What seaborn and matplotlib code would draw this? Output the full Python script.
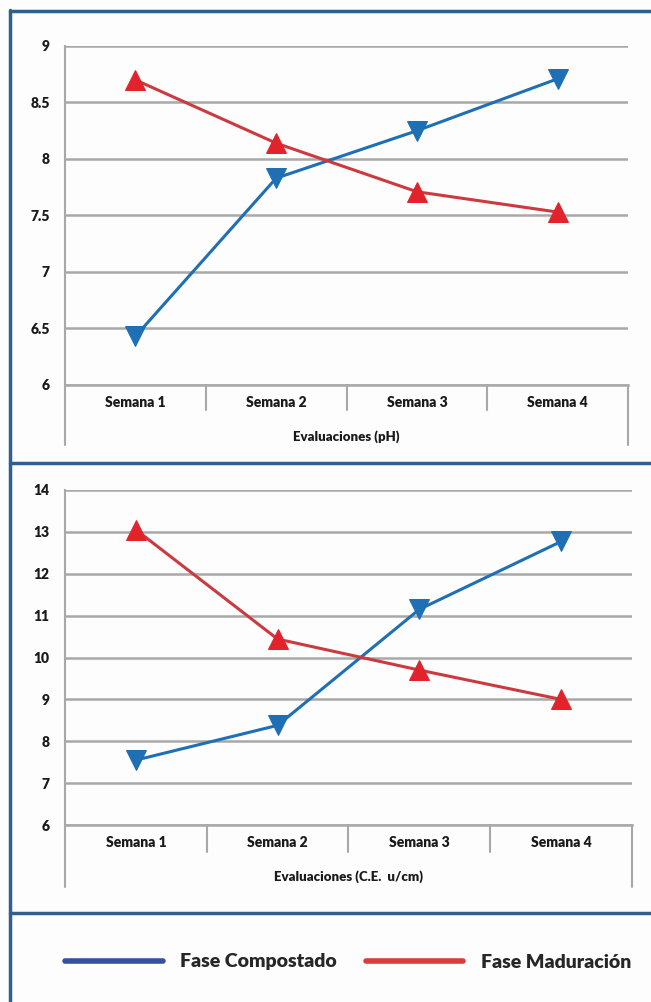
import numpy as np
import pandas as pd
import matplotlib
matplotlib.use("Agg")
import matplotlib.pyplot as plt
from matplotlib.lines import Line2D
import seaborn as sns

# ---- data ----
semanas = ["Semana 1", "Semana 2", "Semana 3", "Semana 4"]
ph_compostado = [6.43, 7.83, 8.25, 8.71]
ph_maduracion = [8.70, 8.14, 7.71, 7.53]
ce_compostado = [7.55, 8.38, 11.15, 12.77]
ce_maduracion = [13.05, 10.44, 9.70, 9.00]
series_names = ["Fase Compostado", "Fase Maduración"]
ph_ticks = [6, 6.5, 7, 7.5, 8, 8.5, 9]
ph_ticklabels = ["6", "6.5", "7", "7.5", "8", "8.5", "9"]
ce_ticks = [6, 7, 8, 9, 10, 11, 12, 13, 14]
ce_ticklabels = ["6", "7", "8", "9", "10", "11", "12", "13", "14"]
xlabel_ph = "Evaluaciones (pH)"
xlabel_ce = "Evaluaciones (C.E.  u/cm)"

sns.set_theme(style="white")
FAM = ["Lato", "DejaVu Sans"]
plt.rcParams["font.family"] = FAM
W = "heavy"

BLUE = "#1f6fb4"
RED = "#e2232c"
RED_LINE = "#cc3a40"
GRID = "#a8a8a8"
FRAME = "#2f5f8f"
TXT = "#1a1a1a"

fig = plt.figure(figsize=(6.51, 10.02), dpi=100)
fig.patch.set_facecolor("#fdfdfd")

ax1 = fig.add_axes([0.0998, 0.6158, 0.8650, 0.3383])
ax2 = fig.add_axes([0.0998, 0.1766, 0.8710, 0.3344])


def draw_panel(ax, comp, mad, ticks, ticklabels, xlabel, inner_len, outer_len, xlab_off):
    df = pd.DataFrame({
        "semana": semanas * 2,
        "x": list(range(len(semanas))) * 2,
        "valor": list(comp) + list(mad),
        "serie": [series_names[0]] * len(semanas) + [series_names[1]] * len(semanas),
    })
    sns.lineplot(data=df, x="x", y="valor", hue="serie", style="serie",
                 palette={series_names[0]: BLUE, series_names[1]: RED_LINE},
                 markers={series_names[0]: "v", series_names[1]: "^"},
                 dashes=False, linewidth=2.2, markersize=14, ax=ax, legend=False,
                 zorder=5)
    for ln in ax.get_lines():
        c = ln.get_color()
        if c == RED_LINE:
            ln.set_markerfacecolor(RED)
            ln.set_markeredgecolor(RED)
        else:
            ln.set_markerfacecolor(BLUE)
            ln.set_markeredgecolor(BLUE)
    ax.set_facecolor("#fdfdfd")
    ax.set_xlim(-0.5, len(semanas) - 0.5)
    ax.set_ylim(ticks[0], ticks[-1])
    ax.set_yticks(ticks)
    ax.set_yticklabels(ticklabels, fontsize=10, fontweight=W, color=TXT)
    ax.set_xticks(range(len(semanas)))
    ax.set_xticklabels(semanas, fontsize=10, fontweight=W, color=TXT)
    ax.tick_params(axis="x", length=0, pad=8)
    ax.tick_params(axis="y", length=6, width=1.5, color=GRID, pad=5)
    ax.set_xlabel("")
    ax.set_ylabel("")
    ax.yaxis.grid(True, color=GRID, linewidth=1.8)
    ax.xaxis.grid(False)
    for s in ["top", "right"]:
        ax.spines[s].set_visible(False)
    ax.spines["left"].set_color(GRID)
    ax.spines["left"].set_linewidth(1.5)
    ax.spines["bottom"].set_color(GRID)
    ax.spines["bottom"].set_linewidth(1.8)
    trans = ax.get_xaxis_transform()
    bbox_h = ax.get_position().height * fig.get_figheight() * fig.dpi
    for b in np.arange(-0.5, len(semanas), 1.0):
        outer = (b == -0.5) or (b == len(semanas) - 0.5)
        L = (outer_len if outer else inner_len) / bbox_h
        ax.add_line(Line2D([b, b], [0, -L], transform=trans, color=GRID,
                           linewidth=1.5, clip_on=False))
    ax.text(0.5, -xlab_off / bbox_h, xlabel, transform=ax.transAxes,
            ha="center", va="center", fontsize=9.5, fontweight=W, color=TXT)


draw_panel(ax1, ph_compostado, ph_maduracion, ph_ticks, ph_ticklabels,
           xlabel_ph, 25, 60, 52)
draw_panel(ax2, ce_compostado, ce_maduracion, ce_ticks, ce_ticklabels,
           xlabel_ce, 27, 62, 52)


def fy(py):
    return 1 - py / 1002.0


fig.add_artist(Line2D([9.5 / 651, 9.5 / 651], [fy(10), 0], color=FRAME, linewidth=2.5))
fig.add_artist(Line2D([9.5 / 651, 1], [fy(11), fy(11)], color=FRAME, linewidth=2.5))
fig.add_artist(Line2D([9.5 / 651, 1], [fy(463), fy(463)], color=FRAME, linewidth=2.5))
fig.add_artist(Line2D([9.5 / 651, 1], [fy(913), fy(913)], color=FRAME, linewidth=2.5))

handles = [Line2D([0], [0], color="#3550a0", linewidth=4),
           Line2D([0], [0], color="#dd3a3a", linewidth=4)]
fig.legend(handles, series_names, loc="center", bbox_to_anchor=(0.535, fy(962)),
           ncol=2, frameon=False, handlelength=5.0, columnspacing=1.5,
           handletextpad=0.9, prop={"family": FAM, "weight": W, "size": 14})

fig.savefig("out.png", dpi=100, facecolor=fig.get_facecolor())
